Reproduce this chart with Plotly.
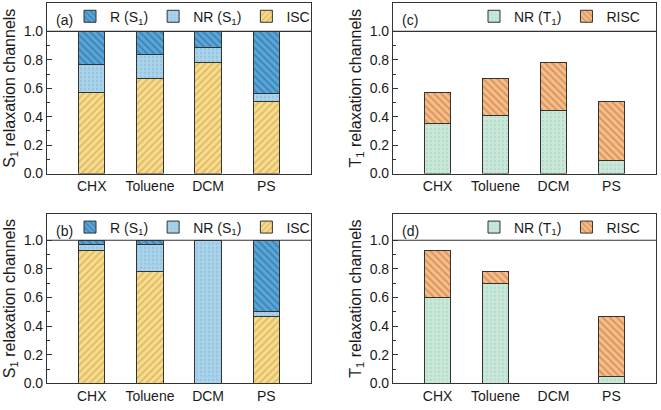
import plotly.graph_objects as go

categories = ["CHX", "Toluene", "DCM", "PS"]

# Panel (a): S1 channels, condition 1
a_isc = [0.57, 0.67, 0.78, 0.51]
a_nr = [0.20, 0.17, 0.11, 0.05]
a_r = [0.23, 0.16, 0.11, 0.44]
# Panel (b): S1 channels, condition 2
b_isc = [0.93, 0.78, 0.0, 0.47]
b_nr = [0.04, 0.19, 1.00, 0.03]
b_r = [0.03, 0.03, 0.0, 0.50]
# Panel (c): T1 channels, condition 1
c_nr = [0.35, 0.41, 0.44, 0.09]
c_risc = [0.22, 0.26, 0.34, 0.42]
# Panel (d): T1 channels, condition 2
d_nr = [0.60, 0.70, 0.0, 0.05]
d_risc = [0.33, 0.08, 0.0, 0.42]

yticks = [0.0, 0.2, 0.4, 0.6, 0.8, 1.0]
ytick_text = ["0.0", "0.2", "0.4", "0.6", "0.8", "1.0"]

FONT = "Liberation Sans, Arial, sans-serif"
OUT = "#333333"
TXT = "#1a1a1a"
BW = 0.45

styles = {
    "R": dict(bg="#5aa6d8", fg="#1f5f8f", shape="\\"),
    "NRS": dict(bg="#a9d3ea", fg="#7fb4d2", shape="."),
    "ISC": dict(bg="#f8dc8e", fg="#c49a3c", shape="/"),
    "NRT": dict(bg="#c9e8d9", fg="#9fcdb8", shape="."),
    "RISC": dict(bg="#f7bd88", fg="#b56a35", shape="\\"),
}


def bar(y, name, key, xa, ya, legend, showlegend=True):
    s = styles[key]
    return go.Bar(
        x=categories, y=y, name=name, xaxis=xa, yaxis=ya, legend=legend,
        showlegend=showlegend, width=BW,
        marker=dict(color=s["bg"], line=dict(color=OUT, width=1),
                    pattern=dict(shape=s["shape"], fgcolor=s["fg"], bgcolor=s["bg"],
                                 size=5 if s["shape"] != "." else 4,
                                 solidity=0.35 if s["shape"] != "." else 0.25)),
        hoverinfo="skip",
    )


fig = go.Figure()
# (a)
fig.add_trace(bar(a_isc, "ISC", "ISC", "x", "y", "legend"))
fig.add_trace(bar(a_nr, "NR (S<sub>1</sub>)", "NRS", "x", "y", "legend"))
fig.add_trace(bar(a_r, "R (S<sub>1</sub>)", "R", "x", "y", "legend"))
# (c)
fig.add_trace(bar(c_nr, "NR (T<sub>1</sub>)", "NRT", "x2", "y2", "legend2"))
fig.add_trace(bar(c_risc, "RISC", "RISC", "x2", "y2", "legend2"))
# (b)
fig.add_trace(bar(b_isc, "ISC", "ISC", "x3", "y3", "legend3"))
fig.add_trace(bar(b_nr, "NR (S<sub>1</sub>)", "NRS", "x3", "y3", "legend3"))
fig.add_trace(bar(b_r, "R (S<sub>1</sub>)", "R", "x3", "y3", "legend3"))
# (d)
fig.add_trace(bar(d_nr, "NR (T<sub>1</sub>)", "NRT", "x4", "y4", "legend4"))
fig.add_trace(bar(d_risc, "RISC", "RISC", "x4", "y4", "legend4"))

W, H = 661, 410
px = lambda v: v / W
py = lambda v: 1 - v / H

dom = {
    "a": ([px(47), px(311)], [py(177), py(3)]),
    "c": ([px(393), px(656)], [py(177), py(3)]),
    "b": ([px(47), px(311)], [py(391), py(218)]),
    "d": ([px(393), px(656)], [py(391), py(218)]),
}


def xax(d, anchor):
    return dict(domain=d, anchor=anchor, type="category", range=[-0.77, 3.77],
                showline=True, mirror=True, linecolor=OUT, linewidth=1.2,
                ticks="", showgrid=False, zeroline=False,
                tickfont=dict(family=FONT, size=14, color=TXT))


def yax(d, anchor, title, top):
    return dict(domain=d, anchor=anchor, range=[0, top], tickvals=yticks, ticktext=ytick_text,
                showline=True, mirror=True, linecolor=OUT, linewidth=1.2,
                ticks="inside", ticklen=5, tickcolor=OUT,
                minor=dict(tickvals=[0.1, 0.3, 0.5, 0.7, 0.9], ticks="inside", ticklen=3, tickcolor=OUT),
                showgrid=False, zeroline=False,
                tickfont=dict(family=FONT, size=14, color=TXT),
                title=dict(text=title, font=dict(family=FONT, size=16, color=TXT), standoff=4))


S1 = "S<sub>1</sub> relaxation channels"
T1 = "T<sub>1</sub> relaxation channels"

leg = lambda x, y: dict(x=x, y=y, xanchor="left", yanchor="middle", orientation="h",
                        traceorder="normal", bgcolor="rgba(0,0,0,0)", itemwidth=30,
                        font=dict(family=FONT, size=14, color=TXT), tracegroupgap=0)

legA = leg(px(70), py(17)); legA["traceorder"] = "reversed"
legB = leg(px(70), py(232)); legB["traceorder"] = "reversed"
legC = leg(px(474), py(17))
legD = leg(px(474), py(232))

fig.update_layout(
    width=W, height=H, margin=dict(l=0, r=0, t=0, b=0),
    paper_bgcolor="white", plot_bgcolor="white",
    barmode="stack", font=dict(family=FONT, size=14, color=TXT),
    xaxis=xax(dom["a"][0], "y"), yaxis=yax(dom["a"][1], "x", S1, 1.2),
    xaxis2=xax(dom["c"][0], "y2"), yaxis2=yax(dom["c"][1], "x2", T1, 1.2),
    xaxis3=xax(dom["b"][0], "y3"), yaxis3=yax(dom["b"][1], "x3", S1, 1.185),
    xaxis4=xax(dom["d"][0], "y4"), yaxis4=yax(dom["d"][1], "x4", T1, 1.185),
    legend=legA, legend2=legC, legend3=legB, legend4=legD,
)

for i, (lab, ax) in enumerate([("(a)", ""), ("(c)", "2"), ("(b)", "3"), ("(d)", "4")]):
    fig.add_shape(type="line", xref=f"x{ax} domain", yref=f"y{ax}", x0=0, x1=1, y0=1.0, y1=1.0,
                  line=dict(color=OUT, width=1.2))
    fig.add_annotation(text=lab, xref=f"x{ax} domain", yref=f"y{ax} domain", x=0.025, y=0.9,
                       xanchor="left", yanchor="middle", showarrow=False,
                       font=dict(family=FONT, size=14, color=TXT))

fig.write_html("out.html")
